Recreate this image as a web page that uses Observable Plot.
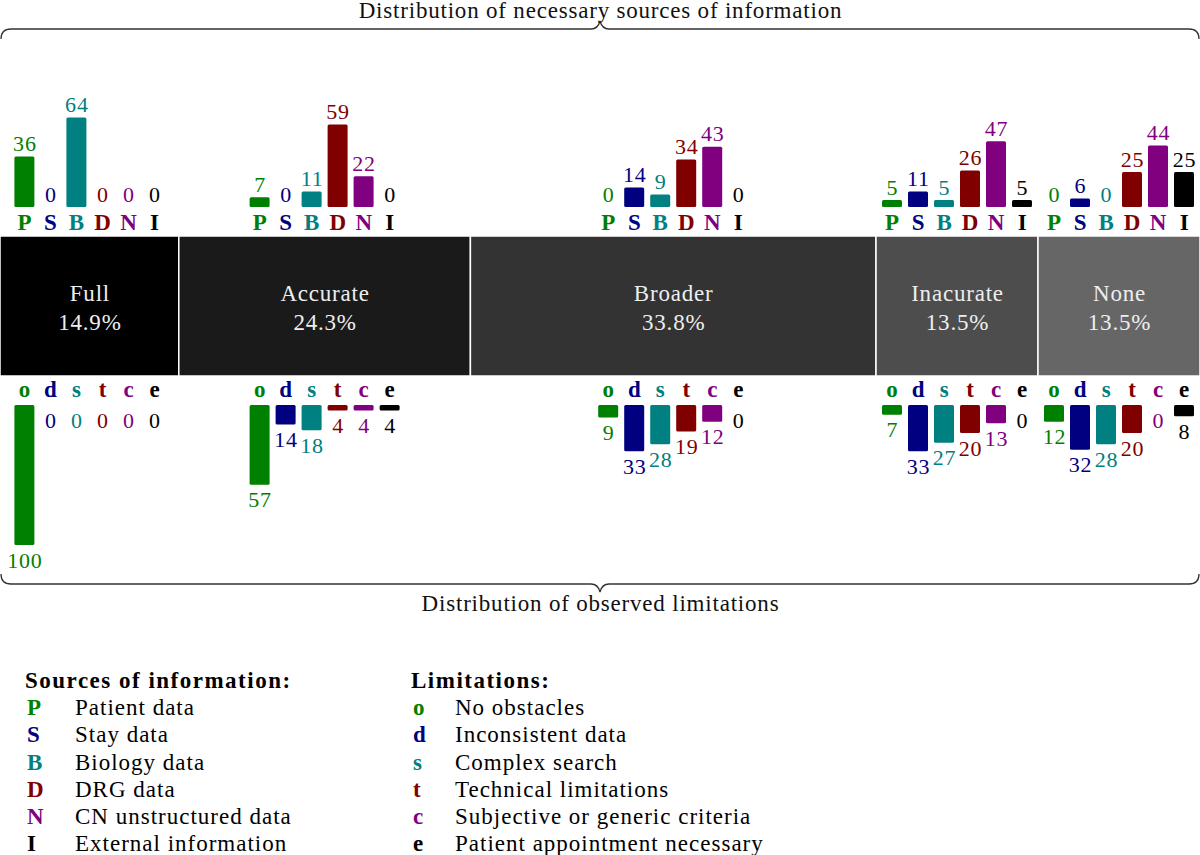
<!DOCTYPE html>
<html>
<head>
<meta charset="utf-8">
<script src="https://cdn.jsdelivr.net/npm/d3@7"></script>
<script src="https://cdn.jsdelivr.net/npm/@observablehq/plot@0.6"></script>
<style>
  html, body { margin: 0; padding: 0; background: #fff; }
  body { width: 1200px; height: 855px; overflow: hidden; font-family: "Liberation Serif", serif; color: #000; }
  #legend { position: relative; height: 235px; font-size: 23px; letter-spacing: 1px; }
  .col { position: absolute; top: 47px; }
  .col h3 { margin: 0; font-size: 23px; font-weight: bold; line-height: 27.2px; letter-spacing: 1.5px; }
  .row { line-height: 27.2px; white-space: nowrap; }
  .row b { display: inline-block; letter-spacing: 0; }
</style>
</head>
<body>
<div id="chart"></div>
<div id="legend"></div>
<script>
// ---------------- data ----------------
const categories = ["Full", "Accurate", "Broader", "Inacurate", "None"];
const shares = [14.9, 24.3, 33.8, 13.5, 13.5];
const bandColors = ["#000000", "#1a1a1a", "#333333", "#4d4d4d", "#666666"];

const sourceKeys = ["P", "S", "B", "D", "N", "I"];
const sourceNames = ["Patient data", "Stay data", "Biology data", "DRG data", "CN unstructured data", "External information"];
const limitKeys = ["o", "d", "s", "t", "c", "e"];
const limitNames = ["No obstacles", "Inconsistent data", "Complex search", "Technical limitations", "Subjective or generic criteria", "Patient appointment necessary"];
const seriesColors = ["#008000", "#000080", "#008080", "#800000", "#800080", "#000000"];

// necessary sources of information (per category, order P S B D N I)
const sourcesFull      = [36, 0, 64, 0, 0, 0];
const sourcesAccurate  = [7, 0, 11, 59, 22, 0];
const sourcesBroader   = [0, 14, 9, 34, 43, 0];
const sourcesInacurate = [5, 11, 5, 26, 47, 5];
const sourcesNone      = [0, 6, 0, 25, 44, 25];

// observed limitations (per category, order o d s t c e)
const limitsFull      = [100, 0, 0, 0, 0, 0];
const limitsAccurate  = [57, 14, 18, 4, 4, 4];
const limitsBroader   = [9, 33, 28, 19, 12, 0];
const limitsInacurate = [7, 33, 27, 20, 13, 0];
const limitsNone      = [12, 32, 28, 20, 0, 8];

const titleTop = "Distribution of necessary sources of information";
const titleBottom = "Distribution of observed limitations";

// ---------------- derived tables ----------------
const sourcesByCat = [sourcesFull, sourcesAccurate, sourcesBroader, sourcesInacurate, sourcesNone];
const limitsByCat = [limitsFull, limitsAccurate, limitsBroader, limitsInacurate, limitsNone];
const ends = d3.cumsum(shares);
const band = categories.map((name, c) => ({
  name, share: shares[c], x1: ends[c] - shares[c], x2: ends[c], mid: ends[c] - shares[c] / 2, color: bandColors[c]
}));
function rows(byCat, i) {
  return band.map((b, c) => ({ mid: b.mid, value: byCat[c][i] }));
}

// ---------------- layout ----------------
const W = 1200, H = 620;
const PX = 1.4;                 // pixels per percentage point
const bandBottomPx = 376;
const yDomain = [(bandBottomPx - H) / PX, bandBottomPx / PX];
const toY = px => (bandBottomPx - px) / PX;
const TOP_BASE = toY(207);
const BOT_BASE = toY(405);
const TOP_LETTER = toY(229);
const BOT_LETTER = toY(396);
const step = 26, barHalf = 10;
const FONT = "'Liberation Serif', serif";

const marks = [];
// band
marks.push(Plot.rect(band, {x1: "x1", x2: "x2", y1: 0, y2: 100, fill: "color", stroke: "#fff", strokeWidth: 1.5}));
marks.push(Plot.text(band, {x: "mid", y: 50, text: d => `${d.name}\n${d.share}%`, fill: "#eeeeee", fontSize: 23, lineHeight: 1.22, fontFamily: FONT}));

for (let i = 0; i < 6; i++) {
  const dx = (i - 2.5) * step;
  const col = seriesColors[i];
  const top = rows(sourcesByCat, i);
  const bot = rows(limitsByCat, i);
  // top bars
  marks.push(Plot.rect(top.filter(d => d.value > 0), {
    x1: "mid", x2: "mid", y1: TOP_BASE, y2: d => TOP_BASE + d.value,
    insetLeft: -barHalf, insetRight: -barHalf, dx, fill: col, rx: 1.5
  }));
  marks.push(Plot.text(top, {x: "mid", y: d => TOP_BASE + d.value, dx, dy: -13, text: d => String(d.value), fill: col, fontSize: 22, fontFamily: FONT}));
  marks.push(Plot.text(band, {x: "mid", y: TOP_LETTER, dx, text: () => sourceKeys[i], fill: col, fontSize: 23, fontWeight: "bold", lineAnchor: "bottom", fontFamily: FONT}));
  // bottom bars
  marks.push(Plot.rect(bot.filter(d => d.value > 0), {
    x1: "mid", x2: "mid", y1: BOT_BASE, y2: d => BOT_BASE - d.value,
    insetLeft: -barHalf, insetRight: -barHalf, dx, fill: col, rx: 1.5
  }));
  marks.push(Plot.text(bot, {x: "mid", y: d => BOT_BASE - d.value, dx, dy: 15, text: d => String(d.value), fill: col, fontSize: 22, fontFamily: FONT}));
  marks.push(Plot.text(band, {x: "mid", y: BOT_LETTER, dx, text: () => limitKeys[i], fill: col, fontSize: 23, fontWeight: "bold", lineAnchor: "bottom", fontFamily: FONT}));
}

// braces
function braceMark(yPx, dir) {
  return (index, scales) => {
    const x0 = scales.x(0) + 1, x1 = scales.x(100) - 1, xm = (x0 + x1) / 2;
    const r = 10, tip = 8 * dir;
    const y = yPx;
    const d = `M${x0},${y + r * dir} Q${x0},${y} ${x0 + r},${y} L${xm - 9},${y} Q${xm - 2},${y} ${xm},${y - tip} ` +
              `Q${xm + 2},${y} ${xm + 9},${y} L${x1 - r},${y} Q${x1},${y} ${x1},${y + r * dir}`;
    const p = document.createElementNS("http://www.w3.org/2000/svg", "path");
    p.setAttribute("d", d);
    p.setAttribute("fill", "none");
    p.setAttribute("stroke", "#333");
    p.setAttribute("stroke-width", "1.3");
    return p;
  };
}
marks.push(braceMark(29, 1));
marks.push(braceMark(584, -1));
marks.push(Plot.text([titleTop], {x: 50, y: toY(10), text: d => d, fontSize: 23, fill: "#111", fontFamily: FONT}));
marks.push(Plot.text([titleBottom], {x: 50, y: toY(603), text: d => d, fontSize: 23, fill: "#111", fontFamily: FONT}));

const chart = Plot.plot({
  width: W, height: H,
  margin: 0,
  x: {domain: [0, 100], range: [0, W], axis: null},
  y: {domain: yDomain, range: [H, 0], axis: null},
  style: {fontFamily: FONT, background: "#fff", overflow: "visible", letterSpacing: "0.8px"},
  marks
});
document.getElementById("chart").appendChild(chart);

// legend
const legend = document.getElementById("legend");
function column(left, heading, keys, names, letterW) {
  const div = document.createElement("div");
  div.className = "col";
  div.style.left = left + "px";
  const h = document.createElement("h3");
  h.textContent = heading;
  div.appendChild(h);
  keys.forEach((k, i) => {
    const r = document.createElement("div");
    r.className = "row";
    const b = document.createElement("b");
    b.textContent = k;
    b.style.color = seriesColors[i];
    b.style.width = letterW + "px";
    b.style.paddingLeft = "2px";
    r.appendChild(b);
    r.appendChild(document.createTextNode(names[i]));
    div.appendChild(r);
  });
  legend.appendChild(div);
}
column(25, "Sources of information:", sourceKeys, sourceNames, 48);
column(411, "Limitations:", limitKeys, limitNames, 42);
</script>
</body>
</html>
